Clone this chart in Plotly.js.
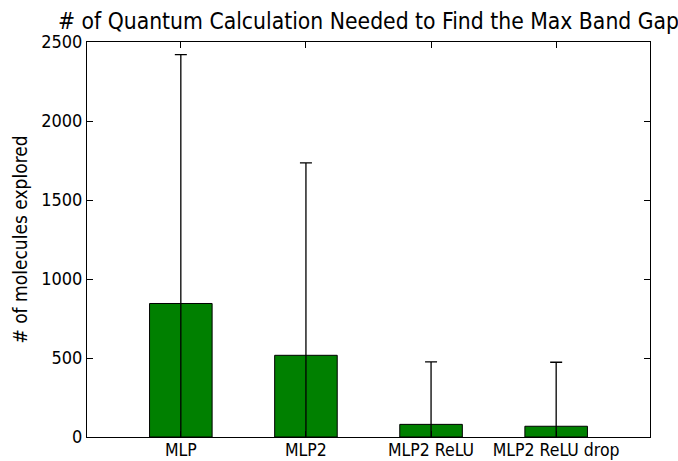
<!DOCTYPE html>
<html><head><meta charset="utf-8">
<script src="https://cdn.plot.ly/plotly-3.0.1.min.js"></script>
<style>html,body{margin:0;padding:0;background:#fff}#chart{width:678px;height:461px}</style>
</head><body><div id="chart"></div>
<script>
const categories = ["MLP", "MLP2", "MLP2 ReLU", "MLP2 ReLU drop"];
const meanExplored = [845, 517, 80, 68];
const errExplored = [1575, 1218, 395, 405];
const yTicks = [0, 500, 1000, 1500, 2000, 2500];

const FONT = "DejaVu Sans Condensed, DejaVu Sans, sans-serif";
const trace = {
  type: "bar",
  x: categories.map((c, i) => i),
  y: meanExplored,
  width: 0.5,
  marker: {color: "#008000", line: {color: "#000", width: 1}},
  error_y: {type: "data", array: errExplored, symmetric: true, color: "#000", thickness: 1.3, width: 6},
  hoverinfo: "none"
};
const layout = {
  width: 678, height: 461,
  margin: {l: 87, r: 28, t: 42, b: 24},
  paper_bgcolor: "#fff", plot_bgcolor: "#fff",
  showlegend: false,
  font: {family: FONT, size: 18, color: "#000"},
  title: {text: "# of Quantum Calculation Needed to Find the Max Band Gap", font: {family: FONT, size: 22.7, color: "#000"}, x: 0.5435, xanchor: "center", y: 0.955, yanchor: "middle"},
  xaxis: {
    range: [-0.75, 3.75], tickmode: "array", tickvals: categories.map((c, i) => i), ticktext: categories,
    ticks: "inside", ticklen: 6, tickcolor: "#000", showline: true, linecolor: "#000", linewidth: 1, mirror: "ticks",
    ticklabelstandoff: -3,
    showgrid: false, zeroline: false, tickfont: {family: FONT, size: 17.5, color: "#000"}, fixedrange: true
  },
  yaxis: {
    range: [0, 2500], tickmode: "array", tickvals: yTicks, ticktext: yTicks.map(String),
    ticks: "inside", ticklen: 6, tickcolor: "#000", showline: true, linecolor: "#000", linewidth: 1, mirror: "ticks",
    showgrid: false, zeroline: false, tickfont: {family: FONT, size: 18, color: "#000"},
    title: {text: "# of molecules explored", font: {family: FONT, size: 19, color: "#000"}, standoff: 8}, fixedrange: true
  }
};
Plotly.newPlot("chart", [trace], layout, {staticPlot: true});
</script></body></html>
